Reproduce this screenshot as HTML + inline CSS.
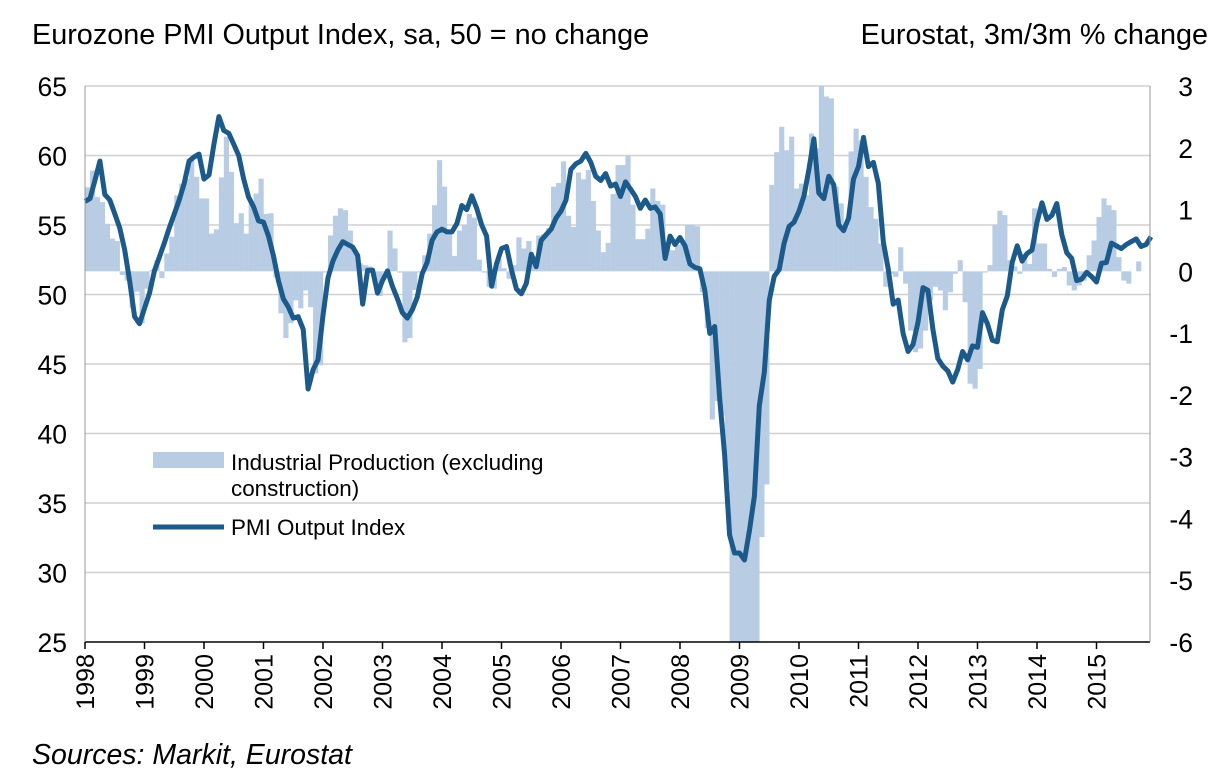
<!DOCTYPE html>
<html><head><meta charset="utf-8"><style>
body{margin:0;background:#fff;}
svg text{font-family:"Liberation Sans",Arial,sans-serif;fill:#000;}
</style></head><body>
<svg id="chart" width="1232" height="772" viewBox="0 0 1232 772" xmlns="http://www.w3.org/2000/svg">
<text x="32" y="44" font-size="28.8">Eurozone PMI Output Index, sa, 50 = no change</text>
<text x="1208" y="44" font-size="28.8" text-anchor="end">Eurostat, 3m/3m % change</text>
<g id="grid"></g><g id="bars"></g><g id="line"></g><g id="axes"></g>
<g>
<rect x="153" y="452" width="71" height="16" fill="#b8cce4"/>
<text x="231" y="470" font-size="22.4">Industrial Production (excluding</text>
<text x="231" y="496" font-size="22.4">construction)</text>
<line x1="153" y1="527" x2="224" y2="527" stroke="#1b5a8a" stroke-width="5"/>
<text x="231" y="535" font-size="22.4">PMI Output Index</text>
</g>
<text x="32" y="764" font-size="28.5" font-style="italic">Sources: Markit, Eurostat</text>
</svg>
<script>
const years=[1998,1999,2000,2001,2002,2003,2004,2005,2006,2007,2008,2009,2010,2011,2012,2013,2014,2015];
const leftTicks=[25,30,35,40,45,50,55,60,65];
const rightTicks=[-6,-5,-4,-3,-2,-1,0,1,2,3];
const pmi=[56.7,56.9,58.2,59.6,57.2,56.8,55.8,54.8,53.2,51.0,48.4,47.9,
49.0,50.1,51.7,52.7,53.7,54.8,55.8,56.8,58.0,59.6,59.9,60.1,
58.3,58.6,60.8,62.8,61.8,61.6,60.8,60.0,58.3,57.0,56.3,55.3,
55.2,54.2,52.8,51.0,49.7,49.1,48.3,48.4,47.5,43.2,44.6,45.3,
48.5,51.2,52.4,53.2,53.8,53.6,53.4,52.8,49.3,51.75,51.75,50.1,
51.0,51.7,50.6,49.7,48.7,48.3,48.9,49.8,51.5,52.3,53.9,54.5,
54.7,54.5,54.5,55.1,56.4,56.1,57.1,56.2,55.0,54.2,50.6,52.2,
53.3,53.45,51.8,50.4,50.05,50.8,52.9,52.0,53.9,54.3,54.7,55.5,
56.0,56.8,59.0,59.4,59.6,60.15,59.5,58.5,58.2,58.7,57.8,57.95,
57.05,58.1,57.6,57.05,56.2,56.8,56.2,56.3,55.8,52.6,54.2,53.6,
54.1,53.5,52.2,51.95,51.85,50.3,47.2,47.7,42.5,38.5,32.7,31.4,
31.4,30.9,33.0,35.5,42.0,44.4,49.6,51.3,51.8,53.7,54.9,55.2,
56.0,57.1,59.0,61.2,57.3,56.9,58.5,57.9,55.0,54.6,55.5,58.3,
59.2,61.3,59.2,59.5,58.0,53.8,51.8,49.3,49.6,47.2,45.9,46.4,
48.0,50.5,50.3,47.5,45.4,44.85,44.5,43.7,44.6,45.9,45.3,46.3,
46.2,48.7,47.9,46.7,46.6,48.9,49.9,52.3,53.5,52.4,52.95,53.2,
55.2,56.6,55.4,55.7,56.55,54.3,53.0,52.6,51.0,51.1,51.6,51.3,
50.9,52.25,52.3,53.7,53.5,53.3,53.6,53.8,54.0,53.45,53.6,54.15];
const ip=[1.36,1.63,1.2,1.12,0.77,0.53,0.49,-0.06,-0.15,-0.6,-0.33,-0.84,
-0.28,0.02,0.18,-0.11,0.29,0.56,1.23,1.42,1.5,1.8,1.53,1.18,
1.18,0.61,0.68,1.52,2.18,1.61,0.78,0.94,0.61,1.1,1.26,1.5,
0.93,0.94,-0.1,-0.68,-1.08,-0.84,-0.47,-0.6,-0.31,-0.58,-1.65,-1.52,
0.0,0.58,0.9,1.02,0.99,0.66,0.34,0.13,0.1,0.08,-0.15,-0.4,
0.0,0.66,0.37,0.0,-1.15,-1.08,-0.3,0.0,0.26,0.61,1.07,1.8,
1.37,0.6,0.25,0.66,0.75,0.93,0.87,0.19,0.0,-0.25,-0.28,0.2,
0.05,-0.12,0.1,0.55,0.37,0.49,0.25,0.58,0.6,0.7,1.37,1.43,
1.78,0.9,0.72,1.6,1.49,1.64,1.14,0.66,0.31,0.46,1.25,1.72,
1.72,1.87,1.08,0.52,0.52,0.69,1.34,1.14,1.08,0.37,0.34,0.43,
0.49,0.75,0.75,0.73,-0.34,-0.92,-2.4,-2.1,-2.33,-3.5,-6,-6,
-6,-6,-6,-6,-4.3,-3.45,1.4,1.93,2.34,1.96,2.18,1.34,
1.42,1.23,2.23,1.99,3.0,2.83,2.8,1.37,1.1,0.72,1.94,2.31,
2.12,1.53,1.04,0.85,0.45,-0.25,-0.04,-0.09,0.39,-0.2,-0.96,-1.31,
-1.25,-0.96,-0.47,-0.25,-0.31,-0.63,-0.34,-0.04,0.18,-0.5,-1.82,-1.9,
-1.58,0.0,0.1,0.75,0.98,0.91,0.18,0.08,-0.04,0.29,0.12,1.02,
0.45,0.45,0.04,-0.09,0.04,0.07,-0.23,-0.31,-0.23,-0.15,0.26,0.5,
0.88,1.18,1.07,0.99,0.23,-0.15,-0.2,null,0.16];

const NS='http://www.w3.org/2000/svg';
const X0=85,X1=1150,YT=86,YB=642,MW=59.5/12;
const xm=i=>X0+i*MW;
const xy=y=>X0+(y-1998)*59.5;
const yl=v=>YT+(65-v)*(YB-YT)/40;
const yr=v=>YT+(3-v)*(YB-YT)/9;
function mk(tag,attrs,parent){const e=document.createElementNS(NS,tag);for(const k in attrs)e.setAttribute(k,attrs[k]);parent.appendChild(e);return e;}
const grid=document.getElementById('grid'),bars=document.getElementById('bars'),line=document.getElementById('line'),axes=document.getElementById('axes');
leftTicks.forEach(t=>{
  if(t>25){const g=mk('line',{x1:X0,x2:X1,y1:yl(t),y2:yl(t),stroke:'#d0d0d0','stroke-width':1.5},grid);
  
  }
  const tx=mk('text',{x:67,y:yl(t)+10,'font-size':26.5,'text-anchor':'end'},axes);tx.textContent=t;
  
  
});
rightTicks.forEach(t=>{
  const tx=mk('text',{x:1193,y:yr(t)+10,'font-size':26.5,'text-anchor':'end'},axes);tx.textContent=t;
  
  
});
const y0=yr(0);
ip.forEach((v,i)=>{
  if(v===null)return;
  const yv=Math.min(yr(v),YB);
  const r=mk('rect',{x:xm(i),y:Math.min(yv,y0),width:MW+0.2,height:Math.max(Math.abs(yv-y0),1.2),fill:'#b8cce4'},bars);
  
  
});
const p=mk('polyline',{points:pmi.map((v,i)=>xm(i).toFixed(1)+','+yl(v).toFixed(1)).join(' '),fill:'none',stroke:'#1b5a8a','stroke-width':5,'stroke-linejoin':'round'},line);


const ax=mk('line',{x1:X0,x2:X1,y1:YB,y2:YB,stroke:'#000','stroke-width':1.5},axes);


const la=mk('line',{x1:X0,x2:X0,y1:YT,y2:YB,stroke:'#999','stroke-width':1},axes);


const ra=mk('line',{x1:X1,x2:X1,y1:YT,y2:YB,stroke:'#999','stroke-width':1},axes);


years.forEach(yv=>{
  const x=xy(yv);
  const tk=mk('line',{x1:x,x2:x,y1:YB,y2:YB+7,stroke:'#000','stroke-width':1.5},axes);
  
  
  const tx=mk('text',{x:0,y:0,'font-size':25,'text-anchor':'end',transform:`translate(${x+9},${YB+12}) rotate(-90)`},axes);
  tx.textContent=yv;
  
  
});
</script>
</body></html>
